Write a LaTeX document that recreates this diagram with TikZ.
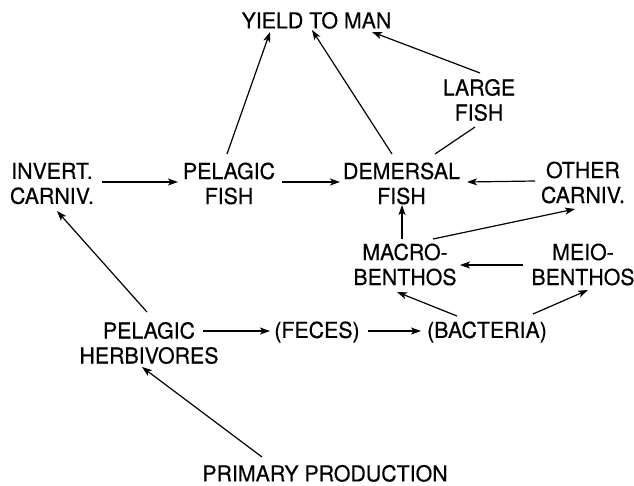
\documentclass[tikz,border=0pt]{standalone}
\usepackage{fontspec}
\setmainfont[FakeStretch=0.97,FakeBold=0.4]{TeX Gyre Heros}
\usetikzlibrary{arrows.meta,calc}
\tikzset{
  lbl/.style={inner sep=0pt, align=center, font=\fontsize{22}{25}\selectfont},
  one/.style={lbl, text height=15.8pt, text depth=0pt},
  arr/.style={line width=1.2pt, -{Stealth[length=10pt,width=7pt,inset=2.5pt]}},
  ln/.style={line width=1.2pt}
}
\begin{document}
\begin{tikzpicture}[x=1pt,y=-1pt]
\useasboundingbox (0,0) rectangle (634,485);
\node[one] (yield) at (316.5,20.5) {YIELD TO MAN};
\node[lbl] (lf) at (479,100) {LARGE\\FISH};
\node[lbl] (ic) at (52,183.5) {INVERT.\\CARNIV.};
\node[lbl] (pf) at (229,183.5) {PELAGIC\\FISH};
\node[lbl] (df) at (401.5,183.5) {DEMERSAL\\FISH};
\node[lbl] (oc) at (583,182.5) {OTHER\\CARNIV.};
\node[lbl] (mb) at (405,264.5) {MACRO-\\BENTHOS};
\node[lbl] (meio) at (583,264.5) {MEIO-\\BENTHOS};
\node[lbl] (ph) at (149,343) {PELAGIC\\HERBIVORES};
\node[one] (feces) at (317,330) {(FECES)};
\node[one] (bact) at (487,330) {(BACTERIA)};
\node[one] (pp) at (325,473.5) {PRIMARY PRODUCTION};

\draw[arr] ($(pf)+(-2,-29.5)$) -- ($(yield)+(-46.5,11.5)$);
\draw[arr] ($(df)+(-9.5,-29.5)$) -- ($(yield)+(-4.5,9.5)$);
\draw[ln] ($(df)+(33.5,-29.5)$) -- ($(lf)+(-4,27)$);
\draw[arr] ($(lf)+(1,-27)$) -- ($(yield)+(55.5,11.5)$);
\draw[arr] ($(ic)+(50,-1.5)$) -- ($(pf)+(-51,-1.5)$);
\draw[arr] ($(pf)+(53,-1.5)$) -- ($(df)+(-61.5,-1.5)$);
\draw[arr] ($(oc)+(-48,-1.5)$) -- ($(df)+(65.5,-1.5)$);
\draw[arr] ($(mb)+(-3,-25.5)$) -- ($(df)+(0.5,21.5)$);
\draw[arr] ($(mb)+(28,-25.5)$) -- ($(oc)+(-8,26.5)$);
\draw[arr] ($(meio)+(-60,0.5)$) -- ($(mb)+(55,0.5)$);
\draw[arr] ($(bact)+(-30,-14)$) -- ($(mb)+(-8,27.5)$);
\draw[arr] ($(bact)+(46,-16)$) -- ($(meio)+(5,25.5)$);
\draw[arr] ($(ph)+(-2,-31)$) -- ($(ic)+(5,27.5)$);
\draw[arr] ($(ph)+(54,-12)$) -- ($(feces)+(-47,1)$);
\draw[arr] ($(feces)+(51,1)$) -- ($(bact)+(-66,1)$);
\draw[arr] ($(pp)+(-63,-16.5)$) -- ($(ph)+(-7,24)$);
\end{tikzpicture}
\end{document}
